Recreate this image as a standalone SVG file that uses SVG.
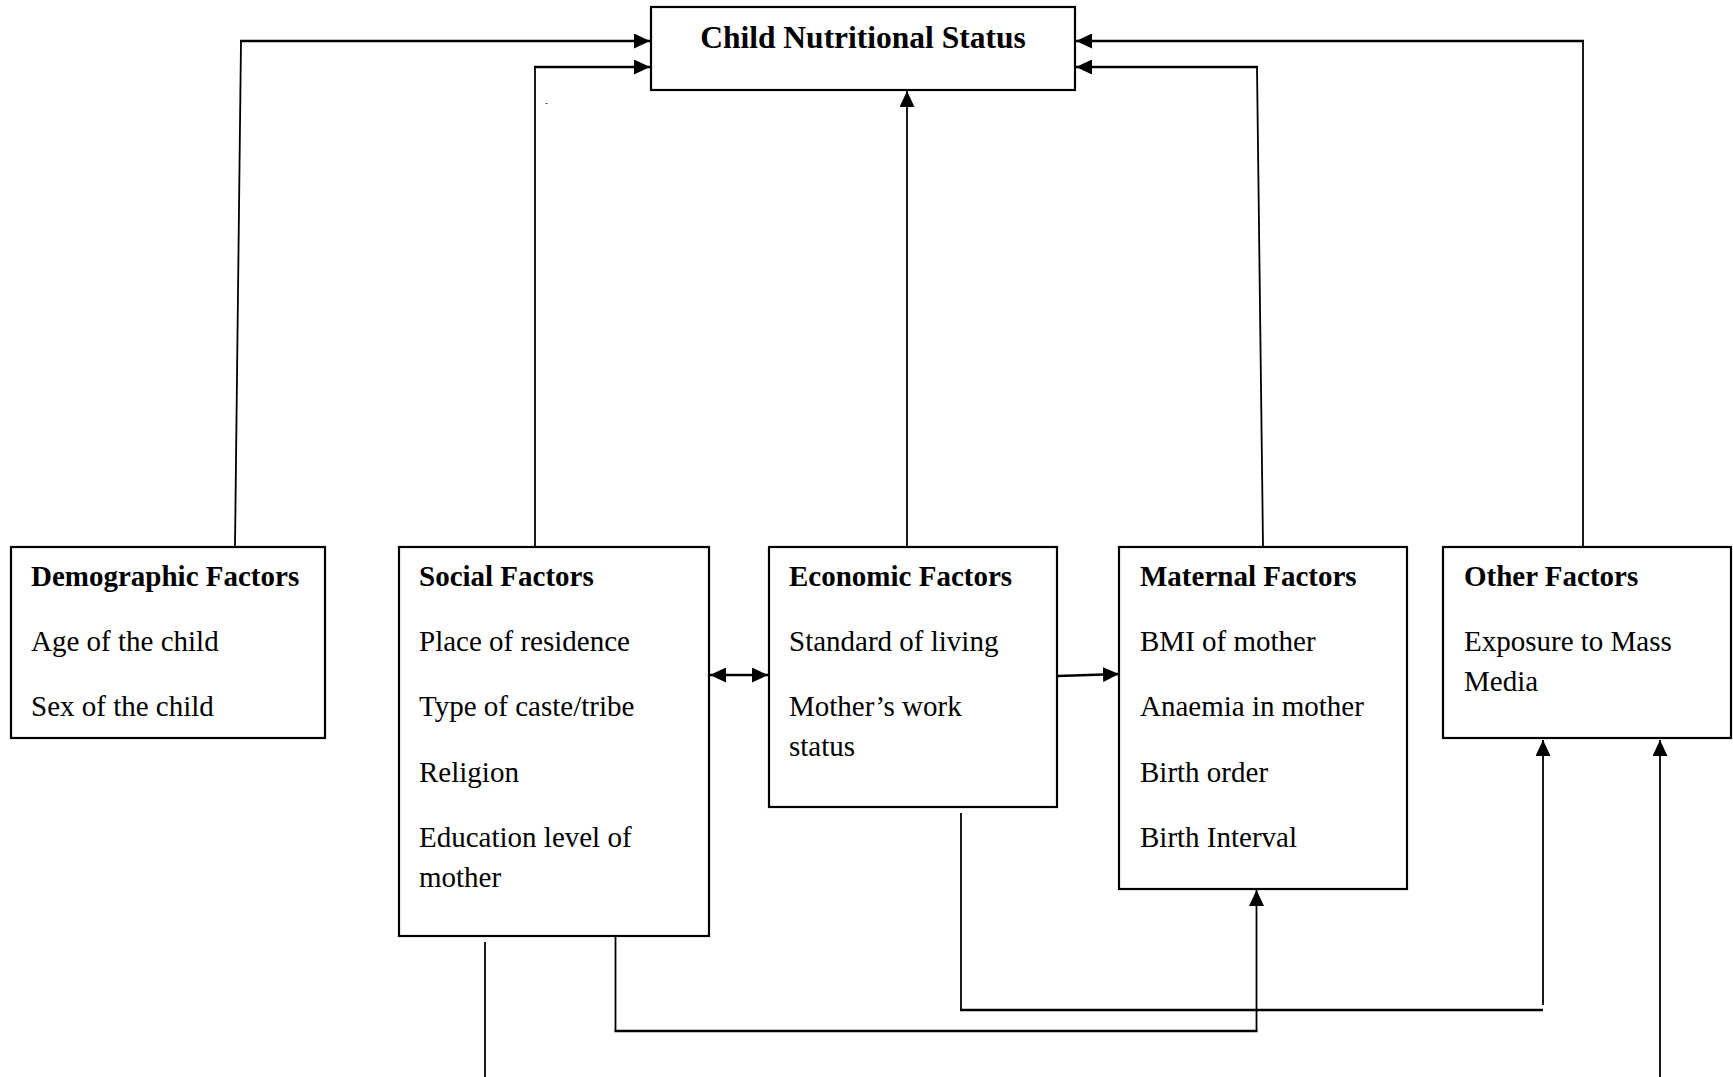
<svg xmlns="http://www.w3.org/2000/svg" width="1733" height="1077" viewBox="0 0 1733 1077">
<style>
.box{fill:#fff;stroke:#000;stroke-width:2.2}
.t{font-family:"Liberation Serif","Times New Roman",serif;font-size:29px;fill:#000}
.b{font-weight:bold}
.ln{fill:none;stroke:#000;stroke-width:1.8}
.th{fill:none;stroke:#000;stroke-width:2.6}
</style>
<defs>
<marker id="ah" viewBox="0 0 16 15" refX="16" refY="7.5" markerWidth="16" markerHeight="15" markerUnits="userSpaceOnUse" orient="auto-start-reverse">
<path d="M0,0 L16,7.5 L0,15 Z" fill="#000"/>
</marker>
</defs>
<g id="connectors">
<path class="ln" d="M235,546 L241,41"/>
<path class="th" d="M240,41 L650,41" marker-end="url(#ah)"/>
<path class="ln" d="M535,546 L535,67"/>
<path class="th" d="M534,67 L650,67" marker-end="url(#ah)"/>
<path class="ln" d="M907,546 L907,91" marker-end="url(#ah)"/>
<path class="ln" d="M1263,546 L1257,67"/>
<path class="th" d="M1258,67 L1076,67" marker-end="url(#ah)"/>
<path class="ln" d="M1583,546 L1583,41"/>
<path class="th" d="M1584,41 L1076,41" marker-end="url(#ah)"/>
<path class="th" d="M710,675 L768,675" marker-start="url(#ah)" marker-end="url(#ah)"/>
<path class="th" d="M1058,676 L1119,674" marker-end="url(#ah)"/>
<path class="ln" d="M961,813 L961,1010"/>
<path class="th" d="M960,1010 L1543,1010"/>
<path class="ln" d="M1543,1005 L1543,740" marker-end="url(#ah)"/>
<path class="ln" d="M615.5,936 L615.5,1031"/>
<path class="th" d="M614.5,1031 L1257.5,1031"/>
<path class="ln" d="M1256.5,1031 L1256.5,890" marker-end="url(#ah)"/>
<path class="ln" d="M485,942 L485,1077"/>
<path class="ln" d="M1660,1077 L1660,740" marker-end="url(#ah)"/>
</g>
<g id="child-nutritional-status">
<rect class="box" x="651" y="7" width="424" height="83"/>
<text class="t b" x="863" y="48" text-anchor="middle" style="font-size:31.5px">Child Nutritional Status</text>
<text class="t" x="545" y="106" style="font-size:9px">-</text>
</g>
<g id="demographic-factors">
<rect class="box" x="11" y="547" width="314" height="191"/>
<text class="t b" x="31" y="586">Demographic Factors</text>
<text class="t" x="31" y="651">Age of the child</text>
<text class="t" x="31" y="716">Sex of the child</text>
</g>
<g id="social-factors">
<rect class="box" x="399" y="547" width="310" height="389"/>
<text class="t b" x="419" y="586">Social Factors</text>
<text class="t" x="419" y="651">Place of residence</text>
<text class="t" x="419" y="716">Type of caste/tribe</text>
<text class="t" x="419" y="782">Religion</text>
<text class="t" x="419" y="847">Education level of</text>
<text class="t" x="419" y="887">mother</text>
</g>
<g id="economic-factors">
<rect class="box" x="769" y="547" width="288" height="260"/>
<text class="t b" x="789" y="586">Economic Factors</text>
<text class="t" x="789" y="651">Standard of living</text>
<text class="t" x="789" y="716">Mother’s work</text>
<text class="t" x="789" y="756">status</text>
</g>
<g id="maternal-factors">
<rect class="box" x="1119" y="547" width="288" height="342"/>
<text class="t b" x="1140" y="586">Maternal Factors</text>
<text class="t" x="1140" y="651">BMI of mother</text>
<text class="t" x="1140" y="716">Anaemia in mother</text>
<text class="t" x="1140" y="782">Birth order</text>
<text class="t" x="1140" y="847">Birth Interval</text>
</g>
<g id="other-factors">
<rect class="box" x="1443" y="547" width="288" height="191"/>
<text class="t b" x="1464" y="586">Other Factors</text>
<text class="t" x="1464" y="651">Exposure to Mass</text>
<text class="t" x="1464" y="691">Media</text>
</g>
</svg>
